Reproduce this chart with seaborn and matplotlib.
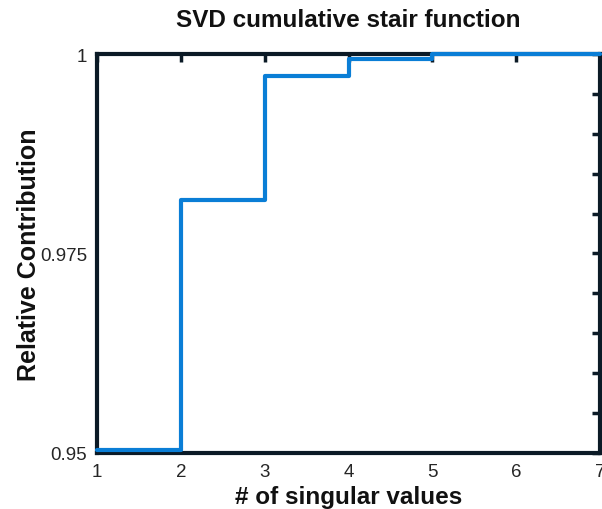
import numpy as np
import pandas as pd
import matplotlib
matplotlib.use("Agg")
import matplotlib.pyplot as plt
from matplotlib.ticker import FixedLocator, FixedFormatter
import seaborn as sns

# Cumulative relative contribution of the singular values
n_singular = [1, 2, 3, 4, 5, 6, 7]
relative_contribution = [0.9504, 0.9817, 0.9972, 0.9994, 1.0, 1.0, 1.0]

y_ticks = [0.95, 0.955, 0.96, 0.965, 0.97, 0.975, 0.98, 0.985, 0.99, 0.995, 1.0]
y_tick_labels = ["0.95", "", "", "", "", "0.975", "", "", "", "", "1"]
x_ticks = [1, 2, 3, 4, 5, 6, 7]

sns.set_style("white")
plt.rcParams["font.family"] = ["Liberation Sans", "DejaVu Sans"]

df = pd.DataFrame({"n": n_singular, "c": relative_contribution})

fig = plt.figure(figsize=(6.02, 5.10), dpi=100)
ax = fig.add_axes([0.161, 0.110, 0.836, 0.782])

sns.lineplot(data=df, x="n", y="c", ax=ax, drawstyle="steps-post",
             color="#0A7ED6", linewidth=3.0, zorder=3, clip_on=False)

ax.set_xlim(1, 7)
ax.set_ylim(0.95, 1.0)
ax.xaxis.set_major_locator(FixedLocator(x_ticks))
ax.yaxis.set_major_locator(FixedLocator(y_ticks))
ax.yaxis.set_major_formatter(FixedFormatter(y_tick_labels))

spine_color = "#0B1A26"
for s in ax.spines.values():
    s.set_visible(True)
    s.set_color(spine_color)
    s.set_linewidth(3.0)
    s.set_zorder(2.5)

ax.tick_params(axis="both", direction="in", top=True, right=True,
               length=6, width=2.5, color=spine_color,
               labelsize=13.5, labelcolor="#262626")
ax.tick_params(axis="y", pad=7)
ax.tick_params(axis="x", pad=7)

ax.set_title("SVD cumulative stair function", fontsize=17.5,
             fontweight="bold", color="#111111", pad=20)
ax.set_xlabel("# of singular values", fontsize=17.5, fontweight="bold",
              color="#111111", labelpad=4)
ax.set_ylabel("Relative Contribution", fontsize=18, fontweight="bold",
              color="#111111", labelpad=-1)

fig.savefig("out.png", dpi=100, facecolor="white")
